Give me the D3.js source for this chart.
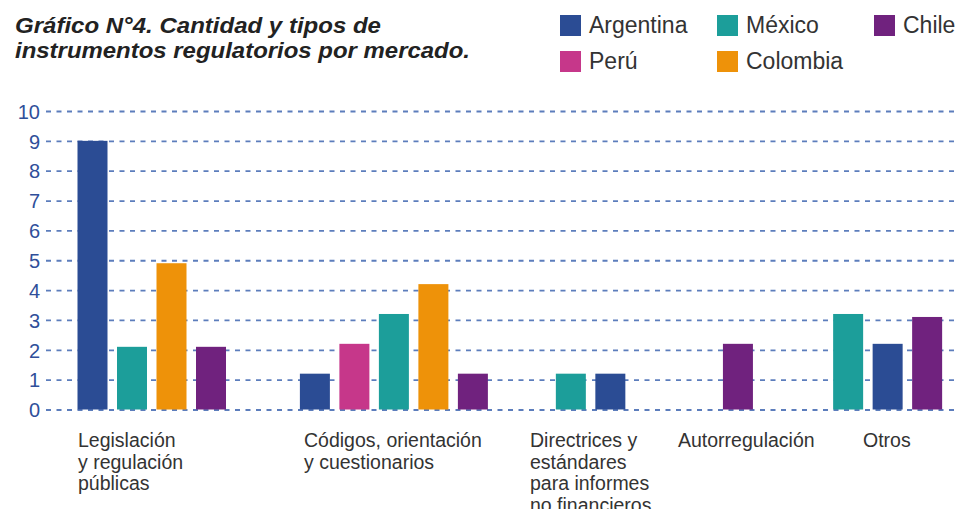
<!DOCTYPE html>
<html>
<head>
<meta charset="utf-8">
<script src="https://cdn.jsdelivr.net/npm/d3@7"></script>
<style>
  body { margin: 0; background: #fff; }
  svg { display: block; font-family: "Liberation Sans", Arial, sans-serif; }
</style>
</head>
<body>
<script>
// data
var countries = ["Argentina", "México", "Chile", "Perú", "Colombia"];
var countryColors = ["#2b4c94", "#1c9e9a", "#70227e", "#c6378a", "#ee9209"];

var categoryLines = [
  ["Legislación", "y regulación", "públicas"],
  ["Códigos, orientación", "y cuestionarios"],
  ["Directrices y", "estándares", "para informes", "no financieros"],
  ["Autorregulación"],
  ["Otros"]
];
// which country each bar belongs to, in drawing order inside each group
var barCountries = [
  ["Argentina", "México", "Colombia", "Chile"],
  ["Argentina", "Perú", "México", "Colombia", "Chile"],
  ["México", "Argentina"],
  ["Chile"],
  ["México", "Argentina", "Chile"]
];
var barValues = [
  [9, 2.1, 4.9, 2.1],
  [1.2, 2.2, 3.2, 4.2, 1.2],
  [1.2, 1.2],
  [2.2],
  [3.2, 2.2, 3.1]
];
var yTicks = [0, 1, 2, 3, 4, 5, 6, 7, 8, 9, 10];

// layout (not data)
var groupStart = [0, 5.63, 12.11, 16.34, 19.13]; // in bar slots
var labelX = [78, 304, 530, 678, 863];

var svgWidth = 960, svgHeight = 509;
var svg = d3.select("body").append("svg")
  .attr("width", svgWidth)
  .attr("height", svgHeight);

var color = d3.scaleOrdinal().domain(countries).range(countryColors);

var yScale = d3.scaleLinear().domain([0, 10]).range([409.5, 111]);
var xSlot = d3.scaleLinear().domain([0, 1]).range([77.5, 117]);
var barW = 30;

// title
var title = svg.append("g")
  .attr("font-weight", "bold")
  .attr("font-style", "italic")
  .attr("font-size", "22px")
  .attr("fill", "#222");
title.append("text").attr("x", 15).attr("y", 33)
  .attr("textLength", 366).attr("lengthAdjust", "spacingAndGlyphs")
  .text("Gráfico N°4. Cantidad y tipos de");
title.append("text").attr("x", 15).attr("y", 58)
  .attr("textLength", 455).attr("lengthAdjust", "spacingAndGlyphs")
  .text("instrumentos regulatorios por mercado.");

// legend
var legendX = [560, 717, 874, 560, 717];
var legendY = [15, 15, 15, 51, 51];
var legend = svg.append("g").selectAll("g")
  .data(countries)
  .enter().append("g")
  .attr("transform", function(d, i) { return "translate(" + legendX[i] + "," + legendY[i] + ")"; });
legend.append("rect")
  .attr("width", 21).attr("height", 21)
  .attr("fill", function(d) { return color(d); });
legend.append("text")
  .attr("x", 29).attr("y", 18)
  .attr("font-size", "23px")
  .attr("fill", "#333")
  .text(function(d) { return d; });

// y axis + dashed gridlines
var yAxis = d3.axisLeft(yScale)
  .tickValues(yTicks)
  .tickSize(-(957 - 46))
  .tickPadding(6);
var gy = svg.append("g")
  .attr("transform", "translate(46,0)")
  .call(yAxis);
gy.select(".domain").remove();
gy.selectAll(".tick line")
  .attr("stroke", "#3f66b0")
  .attr("stroke-width", 1.8)
  .attr("stroke-dasharray", "5,5.5")
  .attr("opacity", 0.85);
gy.selectAll(".tick text")
  .attr("font-size", "20px")
  .attr("font-family", "Liberation Sans, Arial, sans-serif")
  .attr("fill", "#2f4f9a")
  .attr("dy", "0.36em");

// bars
var bars = [];
barValues.forEach(function(vals, g) {
  vals.forEach(function(v, j) {
    bars.push({ group: g, slot: groupStart[g] + j, country: barCountries[g][j], value: v });
  });
});
svg.append("g").selectAll("rect")
  .data(bars)
  .enter().append("rect")
  .attr("x", function(d) { return xSlot(d.slot); })
  .attr("y", function(d) { return yScale(d.value); })
  .attr("width", barW)
  .attr("height", function(d) { return yScale(0) - yScale(d.value); })
  .attr("fill", function(d) { return color(d.country); });

// category labels
var labels = svg.append("g").selectAll("text")
  .data(categoryLines)
  .enter().append("text")
  .attr("font-size", "19.5px")
  .attr("fill", "#333")
  .attr("y", 447);
labels.selectAll("tspan")
  .data(function(d, i) { return d.map(function(t) { return { t: t, x: labelX[i] }; }); })
  .enter().append("tspan")
  .attr("x", function(d) { return d.x; })
  .attr("dy", function(d, i) { return i === 0 ? 0 : 21.5; })
  .text(function(d) { return d.t; });
</script>
</body>
</html>
